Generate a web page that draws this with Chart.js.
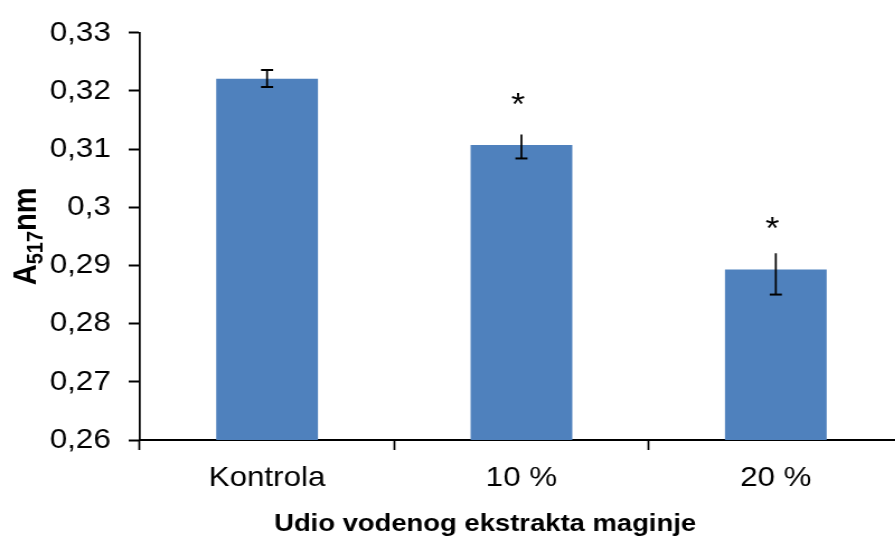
<!DOCTYPE html>
<html>
<head>
<meta charset="utf-8">
<script src="https://cdn.jsdelivr.net/npm/chart.js@4/dist/chart.umd.min.js"></script>
<style>
  html, body { margin: 0; padding: 0; background: #fff; overflow: hidden; }
  #wrap { width: 895px; height: 538px; overflow: hidden; }
</style>
</head>
<body>
<div id="wrap"><canvas id="c" width="807" height="538" style="width:903px;height:538px;display:block"></canvas></div>
<script>
// Absorbance at 517 nm (DPPH assay) for the control and two extract shares
const categories = ['Kontrola', '10 %', '20 %'];
const absorbance = [0.3221, 0.3107, 0.2893];
const errPlus = [0.0015, 0.0018, 0.0028];
const errMinus = [0.0014, 0.0023, 0.0043];
const significance = ['', '*', '*'];
const yTicks = [0.26, 0.27, 0.28, 0.29, 0.30, 0.31, 0.32, 0.33];
const xTitle = 'Udio vodenog ekstrakta maginje';

const FONT = '"Liberation Sans", Arial, Helvetica, sans-serif';
const BAR_COLOR = '#4F81BD';

const fmt = v => {
  const s = (Math.round(v * 100) / 100).toString();
  return s.replace('.', ',');
};

// error bars and significance marks drawn over the bars
const errorBars = {
  id: 'errorBars',
  afterDatasetsDraw(chart, args, opts) {
    const ctx = chart.ctx;
    const y = chart.scales.y;
    const meta = chart.getDatasetMeta(0);
    ctx.save();
    ctx.strokeStyle = '#000';
    meta.data.forEach((bar, i) => {
      const v = absorbance[i];
      const yHi = y.getPixelForValue(v + errPlus[i]);
      const yLo = y.getPixelForValue(v - errMinus[i]);
      const x = bar.x;
      const half = opts.capHalf;
      ctx.lineWidth = 1.75;
      ctx.beginPath();
      ctx.moveTo(x, yHi);
      ctx.lineTo(x, yLo);
      ctx.stroke();
      ctx.lineWidth = 2;
      ctx.beginPath();
      ctx.moveTo(x - half, yLo);
      ctx.lineTo(x + half, yLo);
      if (opts.topCap[i]) {
        ctx.moveTo(x - half, yHi);
        ctx.lineTo(x + half, yHi);
      }
      ctx.stroke();
      if (significance[i]) {
        ctx.fillStyle = '#000';
        ctx.font = '32px ' + FONT;
        ctx.textAlign = 'center';
        ctx.textBaseline = 'middle';
        ctx.fillText(significance[i], x - 3, y.getPixelForValue(v) - 39);
      }
    });
    ctx.restore();
  }
};

// axis titles: bold x title below the labels, rotated y title with subscript (A517nm)
const axisTitles = {
  id: 'axisTitles',
  afterDraw(chart, args, opts) {
    const ctx = chart.ctx;
    const area = chart.chartArea;
    ctx.save();
    ctx.fillStyle = '#000';

    ctx.font = 'bold 24.5px ' + FONT;
    ctx.textAlign = 'center';
    ctx.textBaseline = 'middle';
    ctx.fillText(xTitle, opts.xTitleX, opts.xTitleY);

    const big = 'bold 29px ' + FONT;
    const small = 'bold 20px ' + FONT;
    ctx.textBaseline = 'alphabetic';
    ctx.textAlign = 'left';
    ctx.font = big;
    const wA = ctx.measureText('A').width;
    const wNm = ctx.measureText('nm').width;
    ctx.font = small;
    const wSub = ctx.measureText('517').width;
    const total = wA + wSub + wNm;
    ctx.translate(opts.yTitleX, (area.top + area.bottom) / 2);
    ctx.rotate(-Math.PI / 2);
    let x = -total / 2;
    ctx.font = big;
    ctx.fillText('A', x, 0);
    x += wA;
    ctx.font = small;
    ctx.fillText('517', x, 6);
    x += wSub;
    ctx.font = big;
    ctx.fillText('nm', x, 0);
    ctx.restore();
  }
};

new Chart(document.getElementById('c'), {
  type: 'bar',
  data: {
    labels: categories,
    datasets: [{
      data: absorbance,
      backgroundColor: BAR_COLOR,
      borderWidth: 0,
      barPercentage: 0.4,
      categoryPercentage: 1.0
    }]
  },
  options: {
    responsive: false,
    animation: false,
    devicePixelRatio: 1,
    layout: { padding: { top: 29.3, right: 0, bottom: 0, left: 0 } },
    plugins: {
      legend: { display: false },
      tooltip: { enabled: false },
      errorBars: { capHalf: 5.4, topCap: [true, false, false] },
      axisTitles: { xTitleX: 433.5, xTitleY: 524, yTitleX: 31.7 }
    },
    scales: {
      x: {
        offset: true,
        grid: {
          offset: true,
          drawOnChartArea: false,
          drawTicks: true,
          tickLength: 10,
          tickColor: '#000',
          tickWidth: 1.75
        },
        border: { display: true, color: '#000', width: 2 },
        ticks: {
          color: '#000',
          font: { family: FONT, size: 28 },
          padding: 11.5,
          maxRotation: 0,
          autoSkip: false
        },
        afterFit(scale) { scale.height = 98; }
      },
      y: {
        min: 0.26,
        max: 0.33,
        afterBuildTicks(scale) { scale.ticks = yTicks.map(v => ({ value: v })); },
        grid: {
          drawOnChartArea: false,
          drawTicks: true,
          tickLength: 10,
          tickColor: '#000',
          tickWidth: 2
        },
        border: { display: true, color: '#000', width: 1.75 },
        ticks: {
          color: '#000',
          font: { family: FONT, size: 28 },
          padding: 16,
          callback: v => fmt(v)
        },
        afterFit(scale) { scale.width = 125; }
      }
    }
  },
  plugins: [errorBars, axisTitles]
});
</script>
</body>
</html>
